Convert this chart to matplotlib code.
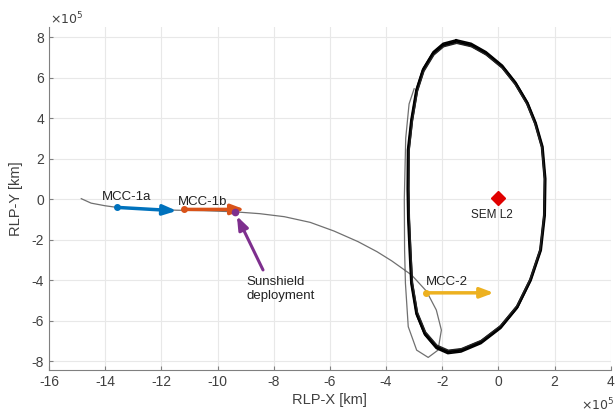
import numpy as np
import matplotlib.pyplot as plt

plt.rcParams['font.family'] = ['Liberation Sans', 'DejaVu Sans']
plt.rcParams['axes.unicode_minus'] = False

# units of 1e5 km
traj_x = [-14.85, -14.5, -14.0, -13.58, -12.5, -11.45, -10.5, -9.38, -8.5, -7.62,
          -6.7, -5.85, -5.0, -4.32, -3.8, -3.09, -2.56, -2.21, -2.03, -2.15, -2.5,
          -2.91, -3.21, -3.31, -3.34, -3.35, -3.3, -3.18, -3.0]
traj_y = [0.02, -0.2, -0.33, -0.41, -0.5, -0.55, -0.57, -0.63, -0.72, -0.87,
          -1.15, -1.58, -2.1, -2.6, -3.05, -3.75, -4.55, -5.48, -6.47, -7.46, -7.82,
          -7.46, -6.3, -4.16, -2.52, 0.0, 3.0, 4.7, 5.45]

loop_x = [-1.5, -0.97, -0.44, 0.14, 0.61, 1.03, 1.32, 1.56, 1.66, 1.64, 1.50,
          1.14, 0.67, 0.08, -0.62, -1.33, -1.80, -2.21, -2.62, -2.91, -3.09,
          -3.15, -3.2, -3.22, -3.21, -3.09, -2.91, -2.68, -2.32, -1.97, -1.5]
loop_y = [7.77, 7.6, 7.19, 6.53, 5.71, 4.73, 3.74, 2.58, 1.0, -0.8, -2.52,
          -4.0, -5.32, -6.31, -7.05, -7.46, -7.54, -7.29, -6.63, -5.65, -4.16,
          -2.52, -1.0, 0.5, 2.42, 3.9, 5.38, 6.37, 7.19, 7.6, 7.77]

burn_names = ['MCC-1a', 'MCC-1b', 'MCC-2']
burn_start_x = [-13.58, -11.18, -2.56]
burn_start_y = [-0.41, -0.51, -4.63]
burn_end_x = [-11.45, -9.03, -0.16]
burn_end_y = [-0.58, -0.51, -4.63]
burn_colors = ['#0072BD', '#D95319', '#EDB120']
label_x = [-13.25, -10.53, -1.82]
label_y = [0.1, -0.15, -4.1]

sun_pt = (-9.36, -0.64)
sun_text = (-8.98, -4.44)
l2 = (0.0, 0.05)

fig = plt.figure(figsize=(6.16, 4.15), dpi=100)
ax = fig.add_axes([0.0795, 0.108, 0.912, 0.827])

ax.plot(traj_x, traj_y, color='#707070', lw=0.9, zorder=2)
ax.plot(loop_x, loop_y, color='black', lw=2.2, zorder=3, solid_joinstyle='round')
ax.plot(loop_x, np.array(loop_y) * 1.012, color='black', lw=1.2, zorder=3,
        solid_joinstyle='round')
ax.plot(np.array(loop_x) * 0.99, np.array(loop_y) * 0.99, color='#222222', lw=1.0,
        zorder=3, solid_joinstyle='round')

for i in range(3):
    ax.plot(burn_start_x[i], burn_start_y[i], 'o', color=burn_colors[i], ms=4, zorder=5)
    ax.annotate('', xy=(burn_end_x[i], burn_end_y[i]),
                xytext=(burn_start_x[i], burn_start_y[i]),
                arrowprops=dict(arrowstyle='-|>,head_length=0.8,head_width=0.3',
                                color=burn_colors[i], lw=2.5, shrinkA=0, shrinkB=0),
                zorder=5)
    ax.text(label_x[i], label_y[i], burn_names[i], fontsize=9.5, color='#222222',
            ha='center', va='center', zorder=6)

ax.plot(sun_pt[0], sun_pt[1], 'o', color='#7E2F8E', ms=4.5, zorder=6)
ax.annotate('', xy=(sun_pt[0] + 0.05, sun_pt[1] - 0.2), xytext=(-8.38, -3.5),
            arrowprops=dict(arrowstyle='-|>,head_length=0.8,head_width=0.3',
                            color='#7E2F8E', lw=2.2, shrinkA=0, shrinkB=0), zorder=6)
ax.text(sun_text[0], sun_text[1], 'Sunshield\ndeployment', fontsize=9.5,
        color='#222222', ha='left', va='center', linespacing=1.3)

ax.plot(l2[0], l2[1], 'D', color='#E00000', ms=7, zorder=6)
ax.text(-0.23, -0.8, 'SEM L2', fontsize=8.5, color='#222222', ha='center', va='center')

ax.set_xlim(-16, 4)
ax.set_ylim(-8.45, 8.5)
ax.set_xticks(np.arange(-16, 5, 2))
ax.set_yticks(np.arange(-8, 9, 2))
ax.grid(True, color='#e8e8e8', lw=0.8)
ax.set_axisbelow(True)
for s in ['top', 'right']:
    ax.spines[s].set_visible(False)
for s in ['left', 'bottom']:
    ax.spines[s].set_color('#808080')
ax.tick_params(direction='in', length=3, colors='#808080', labelcolor='#404040',
               labelsize=10)
ax.set_xlabel('RLP-X [km]', fontsize=10.5, color='#404040', labelpad=3)
ax.set_ylabel('RLP-Y [km]', fontsize=10.5, color='#404040', labelpad=6)

fig.text(0.081, 0.935, r'$\times 10^5$', fontsize=9, color='#404040', va='bottom')
fig.text(0.998, 0.005, r'$\times 10^5$', fontsize=9, color='#404040', va='bottom',
         ha='right')

fig.savefig('out.png', dpi=100)
